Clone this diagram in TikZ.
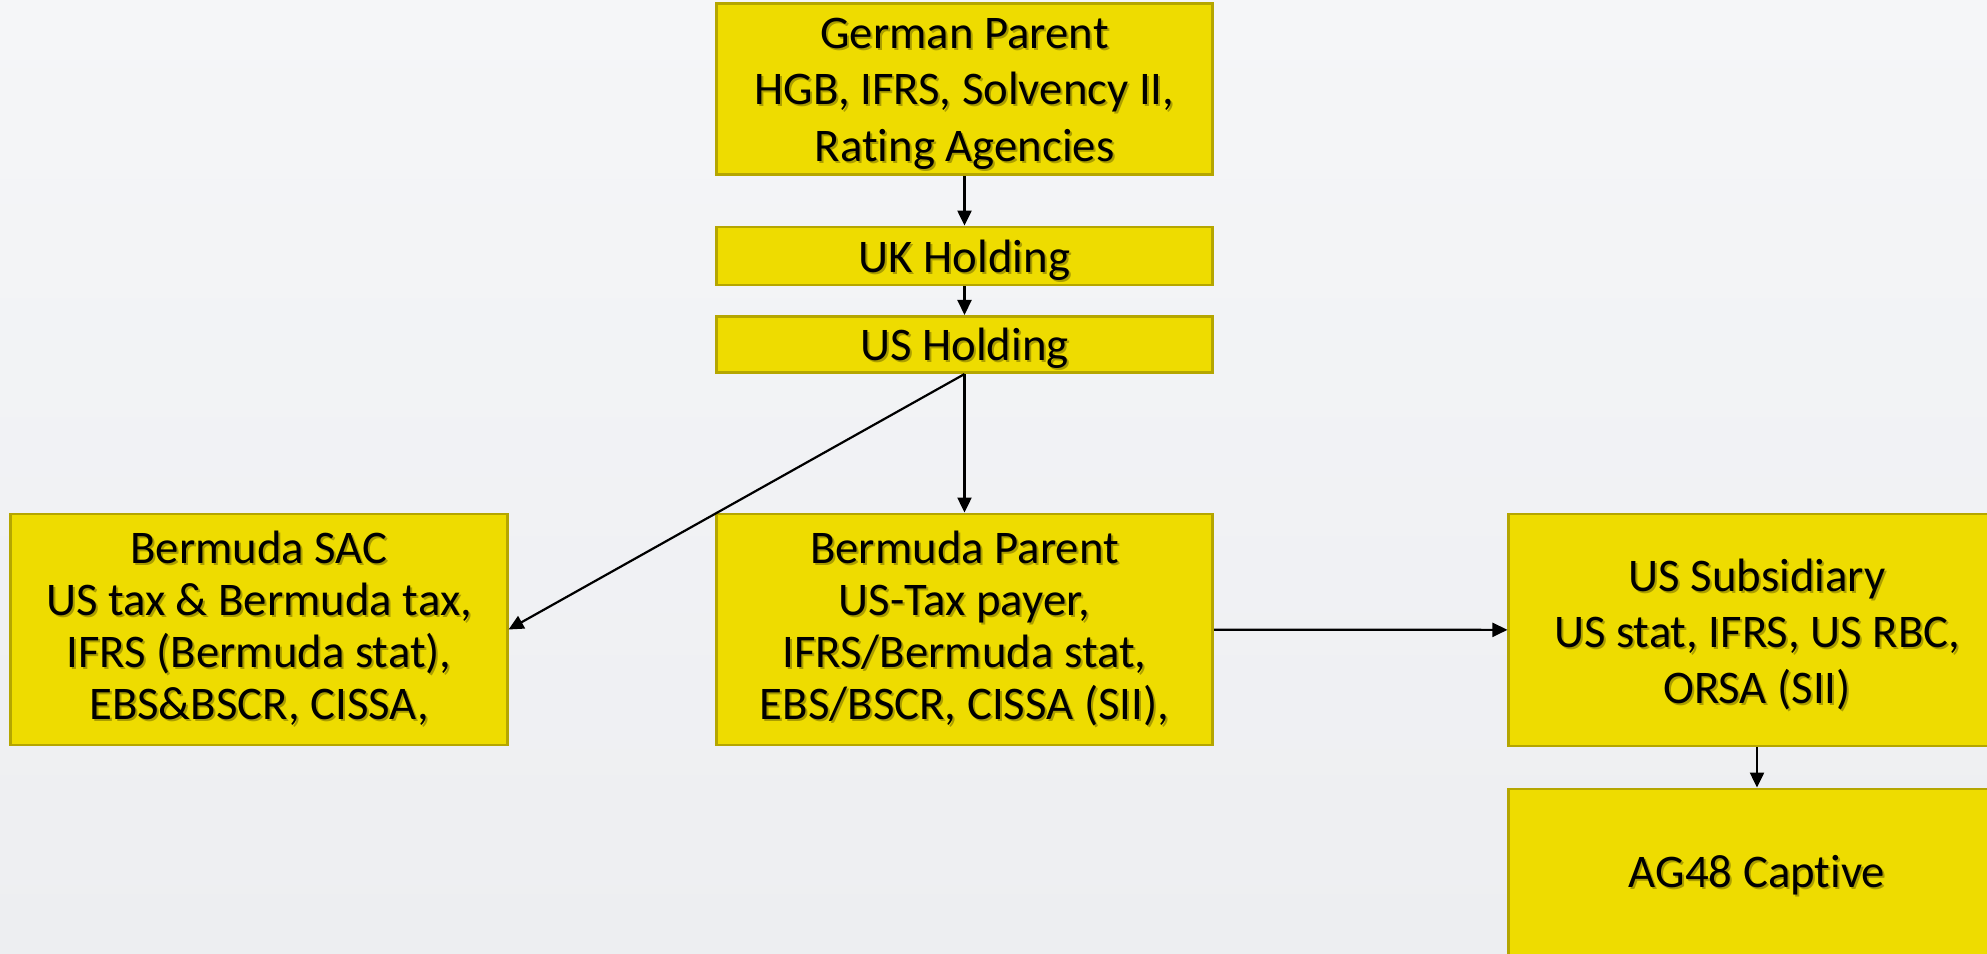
\documentclass[tikz,border=0pt]{standalone}
\usepackage{fontspec}
\setmainfont{Carlito}[Ligatures=NoCommon]
\usetikzlibrary{arrows.meta}
\definecolor{boxfill}{HTML}{EEDC00}
\definecolor{boxline}{HTML}{B5A600}
\definecolor{bgtop}{HTML}{F5F6F8}
\definecolor{bgbottom}{HTML}{EDEEF1}
\colorlet{textshadow}{black!28!boxfill}
% centred block of lines with a soft drop shadow, lowered by #1
\newcommand\boxtext[2]{%
  \raisebox{-#1}[\height][\depth]{%
    \rlap{\hspace{0.02cm}\raisebox{-0.02cm}[0pt][0pt]{\color{textshadow}%
      \begin{tabular}{@{}c@{}}#2\end{tabular}}}%
    \begin{tabular}{@{}c@{}}#2\end{tabular}}}
\tikzset{
  entity/.style={draw=boxline, fill=boxfill, line width=0.028cm,
    minimum width=4.96cm, inner sep=0pt,
    font=\fontsize{13.3pt}{16pt}\selectfont},
  link/.style={draw=black, line width=0.022cm,
    -{Triangle[length=0.15cm, width=0.14cm]}},
}
\begin{document}
\begin{tikzpicture}[x=0.01cm, y=-0.01cm]
  % page background
  \useasboundingbox (0,0) rectangle (1987,953);
  \clip (0,0) rectangle (1987,953);
  \shade[top color=bgtop, bottom color=bgbottom] (0,0) rectangle (1987,953);

  % ownership chain
  \node[entity, minimum height=1.68cm, font=\fontsize{13.3pt}{16.2pt}\selectfont]
    (gp) at (964.5,89)
    {\boxtext{1.3pt}{German Parent\\HGB, IFRS, Solvency II,\\Rating Agencies}};
  \node[entity, minimum height=0.58cm] (uk) at (964.5,256)
    {\boxtext{1.4pt}{UK Holding}};
  \node[entity, minimum height=0.55cm] (ush) at (964.5,344.5)
    {\boxtext{1.3pt}{US Holding}};
  \node[entity, minimum height=2.31cm, font=\fontsize{13.3pt}{14.8pt}\selectfont]
    (sac) at (259,629.5)
    {\boxtext{0.5pt}{Bermuda SAC\\US tax \& Bermuda tax,\\IFRS (Bermuda stat),\\EBS\&BSCR, CISSA,}};
  \node[entity, minimum height=2.31cm, font=\fontsize{13.3pt}{14.8pt}\selectfont]
    (bp) at (964.5,629.5)
    {\boxtext{0.5pt}{Bermuda Parent\\US-Tax payer,\\IFRS/Bermuda stat,\\EBS/BSCR, CISSA (SII),}};
  \node[entity, minimum height=2.32cm, font=\fontsize{13.3pt}{15.9pt}\selectfont]
    (uss) at (1757,630)
    {\boxtext{1.8pt}{US Subsidiary\\US stat, IFRS, US RBC,\\ORSA (SII)}};
  \node[entity, minimum height=1.66cm] (ag) at (1757,872)
    {\boxtext{1.3pt}{AG48 Captive}};

  % connectors
  \draw[link] (gp) -- (uk);
  \draw[link] (uk) -- (ush);
  \draw[link] (ush.south) -- (sac.east);
  \draw[link] (ush) -- (bp);
  \draw[link] (bp) -- (uss);
  \draw[link] (uss) -- (ag);
\end{tikzpicture}
\end{document}
